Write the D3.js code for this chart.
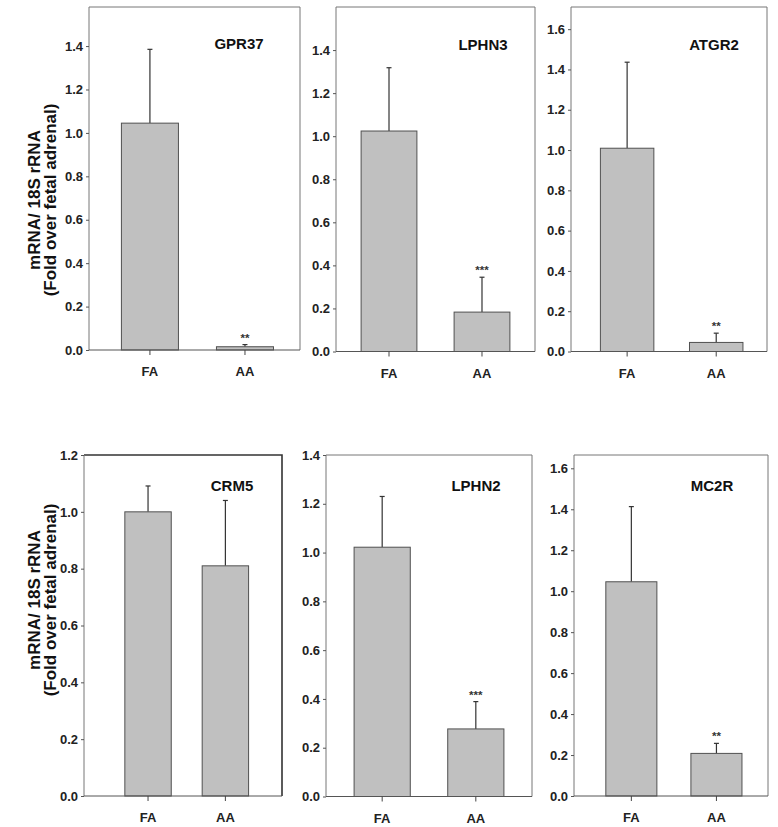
<!DOCTYPE html>
<html><head><meta charset="utf-8">
<script src="https://cdn.jsdelivr.net/npm/d3@7"></script>
<style>
html,body{margin:0;padding:0;background:#fff;}
svg{display:block;font-family:"Liberation Sans",Arial,sans-serif;}
</style></head>
<body>
<svg id="chart" width="778" height="827"></svg>
<script>
// ---- data ----
const genes = ["GPR37", "LPHN3", "ATGR2", "CRM5", "LPHN2", "MC2R"];
const groups = ["FA", "AA"];
const faMeans = [1.045, 1.024, 1.009, 1.0, 1.022, 1.046];
const faErr   = [0.340, 0.294, 0.427, 0.091, 0.208, 0.367];
const aaMeans = [0.015, 0.183, 0.045, 0.81, 0.277, 0.208];
const aaErr   = [0.010, 0.162, 0.046, 0.23, 0.112, 0.049];
const aaSig   = ["**", "***", "**", "", "***", "**"];
const yMax    = [1.58, 1.6, 1.71, 1.2, 1.4, 1.665];
const yTickMax = [1.4, 1.4, 1.6, 1.2, 1.4, 1.6];
const yTitle = ["mRNA/ 18S rRNA", "(Fold over fetal adrenal)"];

// ---- layout (positions) ----
const layout = [
  {l: 89,  t: 7,   r: 300, b: 350, po: 0.31, align: 0.55, frame: "#777", fw: 1},
  {l: 336, t: 7,   r: 535, b: 351.5, po: 0.27, align: 0.5, frame: "#777", fw: 1},
  {l: 571, t: 7,   r: 767, b: 351.5, po: 0.30, align: 0.55, frame: "#777", fw: 1},
  {l: 84,  t: 455, r: 282, b: 796, po: 0.48, align: 0.55, frame: "#333", fw: 1.6},
  {l: 326, t: 455, r: 532, b: 796.5, po: 0.30, align: 0.5, frame: "#777", fw: 1},
  {l: 574, t: 455, r: 768, b: 796, po: 0.34, align: 0.55, frame: "#777", fw: 1}
];
const titlePos = [[239, 49], [483, 50], [714, 50], [232, 491], [476, 491], [712, 491]];

const svg = d3.select("#chart");

genes.forEach((gene, i) => {
  const L = layout[i];
  const g = svg.append("g");
  const x = d3.scaleBand().domain(groups).range([L.l, L.r])
    .paddingInner(0.4).paddingOuter(L.po).align(L.align);
  const y = d3.scaleLinear().domain([0, yMax[i]]).range([L.b, L.t]);
  const ticks = d3.range(0, yTickMax[i] + 1e-9, 0.2);

  // frame (top and right)
  g.append("path")
    .attr("d", `M${L.l},${L.t}H${L.r}V${L.b}`)
    .attr("fill", "none").attr("stroke", L.frame).attr("stroke-width", L.fw);

  const means = [faMeans[i], aaMeans[i]];
  const errs = [faErr[i], aaErr[i]];
  const rows = groups.map((k, j) => ({k, m: means[j], e: errs[j]}));

  // error bars
  rows.forEach(d => {
    const cx = x(d.k) + x.bandwidth() / 2;
    g.append("line").attr("x1", cx).attr("x2", cx)
      .attr("y1", y(d.m)).attr("y2", y(d.m + d.e))
      .attr("stroke", "#333").attr("stroke-width", 1.2);
    g.append("line").attr("x1", cx - 2.5).attr("x2", cx + 2.5)
      .attr("y1", y(d.m + d.e)).attr("y2", y(d.m + d.e))
      .attr("stroke", "#333").attr("stroke-width", 1.2);
  });

  // bars
  g.selectAll("rect.bar").data(rows).enter().append("rect")
    .attr("class", "bar")
    .attr("x", d => x(d.k)).attr("width", x.bandwidth())
    .attr("y", d => y(d.m)).attr("height", d => y(0) - y(d.m))
    .attr("fill", "#c0c0c0").attr("stroke", "#505050").attr("stroke-width", 1);

  // significance
  if (aaSig[i]) {
    const cx = x("AA") + x.bandwidth() / 2;
    g.append("text").attr("x", cx).attr("y", y(aaMeans[i] + aaErr[i]) - 3)
      .attr("text-anchor", "middle").attr("font-size", 11.5).attr("font-weight", "bold")
      .attr("fill", "#333").text(aaSig[i]);
  }

  // y axis
  const ya = g.append("g").attr("transform", `translate(${L.l},0)`)
    .call(d3.axisLeft(y).tickValues(ticks).tickFormat(d3.format(".1f")).tickSize(3).tickPadding(3).tickSizeOuter(0));
  ya.select(".domain").attr("stroke", "#777").attr("stroke-width", 1)
    .attr("d", `M0,${L.b}V${L.t}`);
  ya.selectAll(".tick line").attr("stroke", "#555");
  ya.selectAll("text").attr("font-size", 13).attr("font-weight", "bold").attr("fill", "#222")
    .attr("font-family", "Liberation Sans, Arial, sans-serif");

  // x axis
  const xa = g.append("g").attr("transform", `translate(0,${L.b})`)
    .call(d3.axisBottom(x).tickSize(5).tickPadding(12).tickSizeOuter(0));
  xa.select(".domain").attr("stroke", "#555").attr("stroke-width", 1)
    .attr("d", `M${L.l},0H${L.r}`);
  xa.selectAll(".tick line").attr("stroke", "#444");
  xa.selectAll("text").attr("font-size", 13).attr("font-weight", "bold").attr("fill", "#222")
    .attr("font-family", "Liberation Sans, Arial, sans-serif");

  // gene title
  svg.append("text").attr("x", titlePos[i][0]).attr("y", titlePos[i][1])
    .attr("text-anchor", "middle").attr("font-size", 15).attr("font-weight", "bold")
    .attr("fill", "#111").text(gene);
});

// y titles (row 1 and row 2)
[[200], [600]].forEach(([cy]) => {
  const t = svg.append("text").attr("transform", `translate(40,${cy}) rotate(-90)`)
    .attr("text-anchor", "middle").attr("font-size", 17).attr("font-weight", "bold").attr("fill", "#111");
  t.append("tspan").attr("x", 0).attr("y", 0).text(yTitle[0]);
  t.append("tspan").attr("x", 0).attr("y", 16).text(yTitle[1]);
});
</script>
</body></html>
